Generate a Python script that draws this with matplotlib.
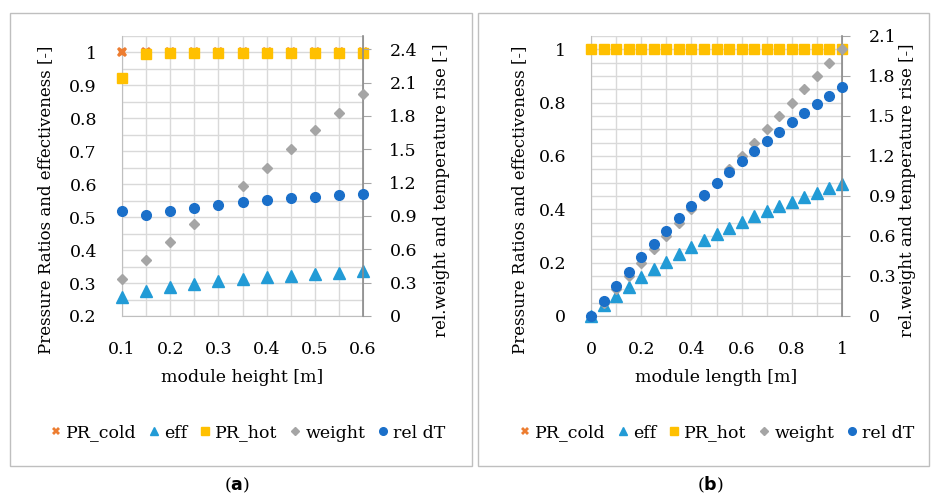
import matplotlib
matplotlib.use("Agg")
import matplotlib.pyplot as plt
from matplotlib.patches import Rectangle
from matplotlib.ticker import FuncFormatter, MultipleLocator

# Données

# (a) influence de la hauteur du module
hauteur = [0.1, 0.15, 0.2, 0.25, 0.3, 0.35, 0.4, 0.45, 0.5, 0.55, 0.6]
pr_cold_a = [1.0, 1.0, 1.0, 1.0, 1.0, 1.0, 1.0, 1.0, 1.0, 1.0, 1.0]
eff_a = [0.257, 0.277, 0.289, 0.298, 0.305, 0.312, 0.318, 0.322, 0.326, 0.331, 0.336]
pr_hot_a = [0.921, 0.994, 0.998, 0.998, 0.998, 0.998, 0.998, 0.998, 0.998, 0.998, 0.998]
weight_a = [0.33, 0.5, 0.67, 0.83, 1.0, 1.17, 1.33, 1.5, 1.67, 1.83, 2.0]
dt_a = [0.943, 0.906, 0.943, 0.973, 0.998, 1.022, 1.040, 1.059, 1.071, 1.086, 1.098]

# (b) influence de la longueur du module
longueur = [0, 0.05, 0.1, 0.15, 0.2, 0.25, 0.3, 0.35, 0.4, 0.45, 0.5,
            0.55, 0.6, 0.65, 0.7, 0.75, 0.8, 0.85, 0.9, 0.95, 1.0]
pr_cold_b = [1.0] * 21
eff_b = [0, 0.04, 0.075, 0.110, 0.145, 0.175, 0.204, 0.231, 0.258, 0.284, 0.308,
         0.330, 0.353, 0.374, 0.393, 0.411, 0.429, 0.446, 0.463, 0.479, 0.495]
pr_hot_b = [1.0] * 21
weight_b = [0, 0.1, 0.2, 0.3, 0.4, 0.5, 0.6, 0.7, 0.8, 0.9, 1.0,
            1.1, 1.2, 1.3, 1.4, 1.5, 1.6, 1.7, 1.8, 1.9, 2.0]
dt_b = [0, 0.115, 0.225, 0.333, 0.44, 0.54, 0.638, 0.733, 0.823, 0.91, 0.998,
        1.08, 1.16, 1.238, 1.31, 1.383, 1.455, 1.523, 1.59, 1.653, 1.715]

noms = ["PR_cold", "eff", "PR_hot", "weight", "rel dT"]

plt.rcParams["font.family"] = "DejaVu Serif"
plt.rcParams["font.size"] = 12

c_cold = "#ED7D31"
c_eff = "#229BD6"
c_hot = "#FFC000"
c_weight = "#A5A5A5"
c_dt = "#1A6FC9"
c_grid = "#D9D9D9"
c_axe = "#A6A6A6"

fmt = FuncFormatter(lambda v, pos: f"{v:g}")

fig = plt.figure(figsize=(9.33, 4.96), dpi=100)
W, H = 933, 496


def px(x0, y0, x1, y1):
    # rectangle en pixels (origine en haut à gauche) -> coordonnées figure
    return [x0 / W, 1 - y1 / H, (x1 - x0) / W, (y1 - y0) / H]


# cadres des deux sous-figures
for x0, x1 in [(10, 472), (478, 929)]:
    fig.patches.append(Rectangle((x0 / W, 1 - 466 / H), (x1 - x0) / W, (466 - 13) / H,
                                 transform=fig.transFigure, fill=False,
                                 edgecolor="#BFBFBF", linewidth=1))


def panneau(rect, x, cold, eff, hot, weight, dt, xlim, xmaj, xmin, ylim, ymaj, y2lim):
    ax = fig.add_axes(px(*rect))
    ax.plot(x, cold, linestyle="none", marker="X", markersize=7.5, color=c_cold,
            markeredgewidth=0, zorder=3, clip_on=False)
    ax.plot(x, eff, linestyle="none", marker="^", markersize=8, color=c_eff,
            zorder=3, clip_on=False)
    ax.plot(x, hot, linestyle="none", marker="s", markersize=6.8, color=c_hot,
            zorder=3, clip_on=False)

    ax.set_xlim(*xlim)
    ax.set_ylim(*ylim)
    ax.xaxis.set_major_locator(MultipleLocator(xmaj))
    ax.xaxis.set_minor_locator(MultipleLocator(xmin))
    ax.yaxis.set_major_locator(MultipleLocator(ymaj))
    ax.yaxis.set_minor_locator(MultipleLocator(0.05))
    ax.xaxis.set_major_formatter(fmt)
    ax.yaxis.set_major_formatter(fmt)
    ax.grid(True, which="both", color=c_grid, linewidth=1)
    ax.set_axisbelow(True)
    ax.tick_params(which="both", length=0, pad=18, labelsize=12.5)
    ax.spines["top"].set_visible(False)
    for s in ["left", "bottom", "right"]:
        ax.spines[s].set_color("#BFBFBF")

    ax2 = ax.twinx()
    ax2.plot(x, weight, linestyle="none", marker="D", markersize=5, color=c_weight,
             zorder=3, clip_on=False)
    ax2.plot(x, dt, linestyle="none", marker="o", markersize=7, color=c_dt,
             zorder=3, clip_on=False)
    ax2.set_ylim(*y2lim)
    ax2.yaxis.set_major_locator(MultipleLocator(0.3))
    ax2.yaxis.set_major_formatter(fmt)
    ax2.tick_params(length=6, color=c_axe, pad=13, labelsize=12.5)
    ax2.spines["top"].set_visible(False)
    ax2.spines["left"].set_visible(False)
    ax2.spines["bottom"].set_visible(False)
    ax2.spines["right"].set_color("#8C8C8C")
    ax2.spines["right"].set_linewidth(1.2)
    return ax


# (a)
panneau((122, 36, 363, 316), hauteur, pr_cold_a, eff_a, pr_hot_a, weight_a, dt_a,
        (0.1, 0.6), 0.1, 0.05, (0.2, 1.05), 0.1, (0, 2.52))
# (b)
panneau((591, 36, 842, 316), longueur, pr_cold_b, eff_b, pr_hot_b, weight_b, dt_b,
        (0, 1), 0.2, 0.1, (0, 1.05), 0.2, (0, 2.1))

# titres des axes
for xl, xr, xc, titre in [(46, 442, 242, "module height [m]"),
                          (520, 908, 716, "module length [m]")]:
    fig.text(xl / W, 1 - 200 / H, "Pressure Ratios and effectiveness [-]",
             rotation=90, ha="center", va="center", fontsize=12)
    fig.text(xr / W, 1 - 190 / H, "rel.weight and temperature rise [-]",
             rotation=90, ha="center", va="center", fontsize=12)
    fig.text(xc / W, 1 - 377 / H, titre, ha="center", va="center", fontsize=12.5)

# légendes
poignees = [
    plt.Line2D([], [], linestyle="none", marker="X", markersize=6, color=c_cold, markeredgewidth=0),
    plt.Line2D([], [], linestyle="none", marker="^", markersize=6, color=c_eff),
    plt.Line2D([], [], linestyle="none", marker="s", markersize=5.5, color=c_hot),
    plt.Line2D([], [], linestyle="none", marker="D", markersize=4, color=c_weight),
    plt.Line2D([], [], linestyle="none", marker="o", markersize=5.5, color=c_dt),
]
for xc in [247, 716]:
    fig.legend(poignees, noms, loc="center", bbox_to_anchor=(xc / W, 1 - 433 / H),
               ncol=5, frameon=False, handlelength=0.8, handletextpad=0.2,
               columnspacing=0.6, fontsize=12.5)

fig.text(237 / W, 1 - 485 / H, r"($\mathbf{a}$)", ha="center", va="center", fontsize=12.5)
fig.text(710 / W, 1 - 485 / H, r"($\mathbf{b}$)", ha="center", va="center", fontsize=12.5)

fig.savefig("out.png", dpi=100)
